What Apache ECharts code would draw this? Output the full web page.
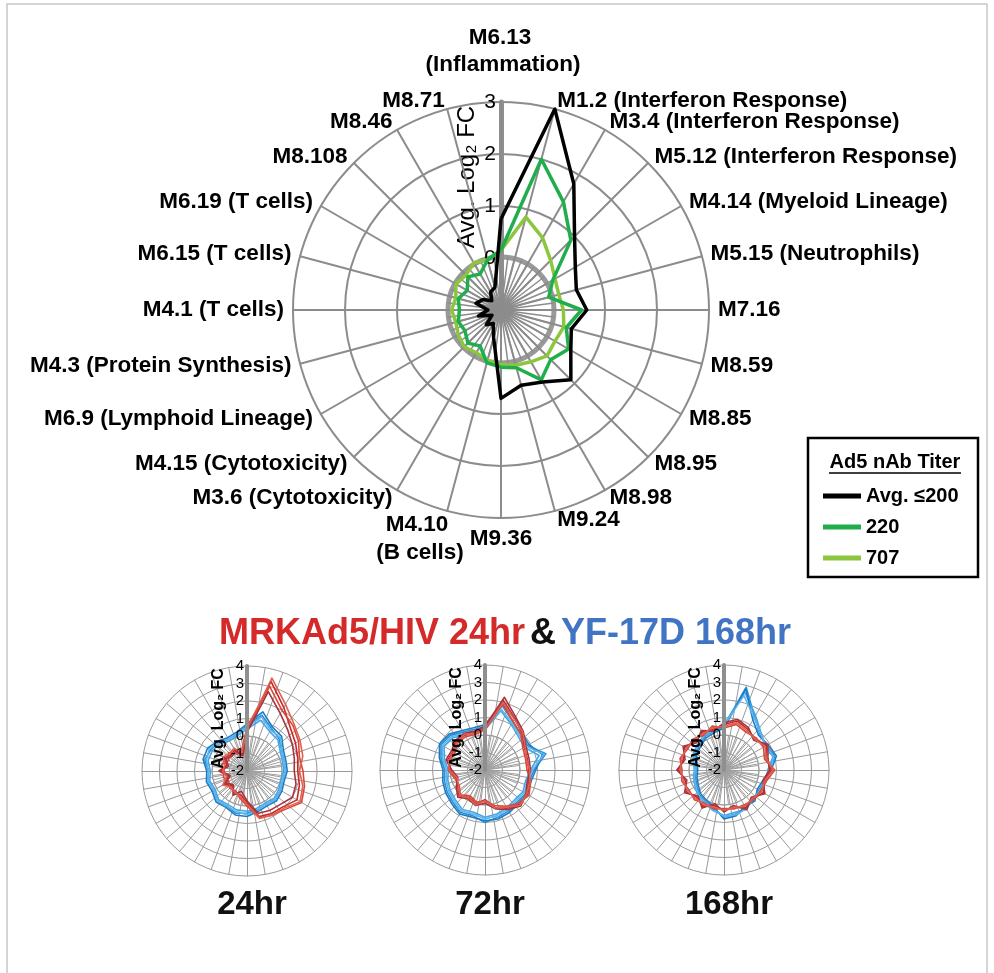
<!DOCTYPE html>
<html><head><meta charset="utf-8">
<script src="https://cdn.jsdelivr.net/npm/echarts/dist/echarts.min.js"></script>
<style>html,body{margin:0;padding:0;background:#fff}#c{width:994px;height:973px}</style>
</head><body><div id="c"></div>
<script>
// categories, clockwise from top
const modules = ['M6.13\n(Inflammation)','M1.2 (Interferon Response)','M3.4 (Interferon Response)','M5.12 (Interferon Response)','M4.14 (Myeloid Lineage)','M5.15 (Neutrophils)','M7.16','M8.59','M8.85','M8.95','M8.98','M9.24','M9.36','M4.10\n(B cells)','M3.6 (Cytotoxicity)','M4.15 (Cytotoxicity)','M6.9 (Lymphoid Lineage)','M4.3 (Protein Synthesis)','M4.1 (T cells)','M6.15 (T cells)','M6.19 (T cells)','M8.108','M8.46','M8.71'];
const legendNames = ['Avg. ≤200','220','707'];
const mainTicks = [0,1,2,3];
const smallTicks = [-2,-1,0,1,2,3,4];
const panelLabels = ['24hr','72hr','168hr'];

// main chart values (Avg. Log2 FC)
const avg200 = [0.75,3.0,1.8,1.0,0.65,0.5,0.65,0.4,0.55,0.9,0.6,0.5,0.7,-0.45,-0.7,-0.6,-0.8,-0.55,-0.75,-0.5,-0.6,-0.75,-0.6,-0.55];
const t220   = [0.15,2.0,1.4,0.9,0.15,-0.05,0.55,0.3,0.5,0.35,0.55,0.15,0.1,0.05,-0.2,-0.1,-0.2,-0.15,-0.2,-0.15,-0.25,-0.1,-0.2,0.0];
const t707   = [0.15,0.85,0.6,0.35,0.2,0.15,0.2,0.25,0.2,0.25,0.15,0.1,0.05,0.0,-0.05,0.0,-0.05,-0.1,-0.05,-0.1,0.0,-0.05,0.05,0.0];

// small panels: red = MRKAd5/HIV 24hr, blue = YF-17D 168hr
const red24a = [0.3,3.3,2.2,1.5,1.2,1.0,0.9,1.1,1.3,0.9,0.8,0.7,-0.2,-0.6,-0.5,-0.8,-0.5,-0.9,-0.4,-0.8,-0.5,-0.7,-0.6,-1.0];
const red24b = [0.5,3.0,2.0,1.7,1.4,1.1,1.2,1.4,1.6,1.1,0.9,0.8,0.0,-0.4,-0.7,-0.6,-0.8,-0.6,-0.7,-0.5,-0.8,-0.5,-0.9,-0.8];
const red24c = [0.2,2.7,1.8,1.3,1.0,0.8,0.7,0.9,1.0,0.7,0.6,0.5,-0.3,-0.8,-0.4,-0.9,-0.6,-1.0,-0.5,-0.9,-0.6,-0.8,-0.7,-1.1];
const red24d = [0.4,3.5,2.4,1.8,1.5,1.3,1.0,1.3,1.5,1.0,0.9,0.8,-0.1,-0.5,-0.6,-0.7,-0.4,-0.8,-0.6,-0.7,-0.4,-0.6,-0.5,-0.9];
const blue24a = [0.6,1.3,0.8,0.6,0.3,0.2,0.2,0.1,0.2,0.3,0.2,0.3,0.4,0.5,0.3,0.4,0.2,0.3,0.2,0.5,0.4,0.3,0.1,0.2];
const blue24b = [0.4,1.0,0.6,0.5,0.2,0.1,0.1,0.0,0.1,0.2,0.1,0.2,0.3,0.3,0.2,0.3,0.1,0.2,0.1,0.3,0.3,0.2,0.0,0.1];
const blue24c = [0.7,1.5,0.9,0.8,0.4,0.3,0.3,0.2,0.3,0.4,0.3,0.4,0.6,0.6,0.4,0.5,0.3,0.4,0.3,0.6,0.6,0.4,0.2,0.3];
const blue24d = [0.5,1.2,0.7,0.7,0.3,0.2,0.2,0.1,0.2,0.3,0.2,0.3,0.5,0.4,0.3,0.4,0.2,0.3,0.2,0.4,0.5,0.3,0.1,0.2];

const red72a = [0.4,2.1,1.4,1.0,0.6,0.5,0.5,0.6,0.8,0.8,0.5,0.2,-0.3,0.0,-0.2,0.1,-0.2,-0.3,0.0,0.2,0.1,0.3,0.3,0.2];
const red72b = [0.3,1.9,1.2,0.9,0.5,0.4,0.4,0.7,0.9,0.7,0.4,0.1,-0.2,-0.1,-0.3,0.0,-0.3,-0.2,0.1,0.1,0.0,0.2,0.2,0.1];
const red72c = [0.5,2.3,1.5,1.1,0.7,0.6,0.6,0.5,0.7,0.9,0.6,0.3,-0.1,0.1,-0.1,0.2,-0.1,-0.4,-0.1,0.3,0.2,0.4,0.4,0.3];
const red72d = [0.35,2.0,1.35,1.05,0.65,0.45,0.55,0.65,0.75,0.85,0.45,0.25,-0.25,0.05,-0.15,0.05,-0.25,-0.35,0.05,0.15,0.05,0.25,0.35,0.15];
const blue72a = [0.5,1.8,1.2,0.9,0.8,1.6,0.8,0.6,0.7,0.6,0.7,0.8,1.0,0.7,0.8,0.6,0.5,0.4,0.3,0.6,0.9,0.8,0.5,0.4];
const blue72b = [0.3,1.5,1.0,0.7,0.6,1.2,0.6,0.4,0.5,0.4,0.5,0.6,0.7,0.5,0.6,0.4,0.3,0.2,0.1,0.4,0.7,0.6,0.3,0.2];
const blue72c = [0.6,1.9,1.4,1.0,0.9,1.4,0.9,0.7,0.8,0.7,0.8,0.9,0.9,0.8,0.9,0.7,0.6,0.5,0.4,0.7,1.0,0.9,0.6,0.5];
const blue72d = [0.4,1.6,1.1,0.8,0.7,1.5,0.7,0.5,0.6,0.5,0.6,0.7,0.8,0.6,0.7,0.5,0.4,0.3,0.2,0.5,0.8,0.7,0.4,0.3];

const red168a = [0.6,0.9,0.7,0.5,0.8,0.5,0.7,0.4,0.6,0.3,0.5,0.2,0.3,0.1,0.4,0.2,0.5,0.3,0.6,0.4,0.6,0.3,0.5,0.4];
const red168b = [0.4,0.7,0.5,0.6,0.6,0.4,0.9,0.5,0.4,0.4,0.3,0.3,0.2,0.3,0.2,0.4,0.3,0.5,0.4,0.6,0.4,0.5,0.3,0.6];
const red168c = [0.7,1.0,0.8,0.4,0.9,0.6,0.6,0.3,0.7,0.2,0.6,0.1,0.4,0.0,0.5,0.1,0.6,0.2,0.7,0.3,0.7,0.2,0.6,0.3];
const red168d = [0.5,0.8,0.6,0.5,0.7,0.5,0.8,0.4,0.5,0.3,0.4,0.2,0.3,0.2,0.3,0.3,0.4,0.4,0.5,0.5,0.5,0.4,0.4,0.5];
const blue168a = [0.5,2.9,1.5,0.9,0.8,1.0,0.6,0.4,0.3,0.4,0.5,0.6,0.7,0.3,0.1,0.0,-0.2,-0.3,-0.4,-0.3,-0.1,0.0,0.2,0.3];
const blue168b = [0.6,2.6,1.6,1.0,0.7,0.9,0.5,0.5,0.4,0.3,0.6,0.5,0.6,0.4,0.2,0.1,-0.1,-0.2,-0.3,-0.2,0.0,0.1,0.3,0.4];
const blue168c = [0.4,2.8,1.3,0.8,0.9,1.1,0.7,0.3,0.2,0.5,0.4,0.7,0.8,0.2,0.0,-0.1,-0.3,-0.4,-0.5,-0.4,-0.2,-0.1,0.1,0.2];
const blue168d = [0.55,2.4,1.45,0.95,0.75,0.95,0.65,0.45,0.35,0.35,0.55,0.65,0.65,0.35,0.15,0.05,-0.15,-0.25,-0.35,-0.25,-0.05,0.05,0.25,0.35];

const panels = [
  {red:[red24a,red24b,red24c,red24d], blue:[blue24a,blue24b,blue24c,blue24d]},
  {red:[red72a,red72b,red72c,red72d], blue:[blue72a,blue72b,blue72c,blue72d]},
  {red:[red168a,red168b,red168c,red168d], blue:[blue168a,blue168b,blue168c,blue168d]}
];

// ---- layout / style ----
const N = modules.length;
// ECharts radar runs counter-clockwise; reorder so the chart reads clockwise
const order = Array.from({length:N}, (_, i) => (N - i) % N);
const re = arr => order.map(k => arr[k]);
const GRID = '#8c8c8c';
const FONT = 'Liberation Sans, Arial, sans-serif';
const NFS = 22.5;
const mainC = [501, 310], mainR = 208;
const smallCs = [[247, 771], [485, 770], [724, 770]], smallR = 105;
const redCols = ['#c62828','#d9473a','#a8323e','#e06050'];
const blueCols = ['#2b8fd6','#44a6e6','#1b7cc4','#5cb6ee'];

const radar = [];
const polar = [], angleAxis = [], radiusAxis = [];
const series = [];

// two-line names (top and lower-left) are set as separate text blocks below
const twoLine = n => n.includes('\n');

// main grid
radar.push({
  center: mainC, radius: mainR, startAngle: 90, shape: 'circle', splitNumber: 4,
  indicator: order.map(k => ({name: modules[k], min: -1, max: 3})),
  axisName: {color:'#000', fontWeight:'bold', fontSize:NFS, fontFamily:FONT,
    formatter: n => twoLine(n) ? '' : n},
  nameGap: 9,
  axisLine: {lineStyle:{color:GRID, width:2}},
  splitLine: {lineStyle:{color:GRID, width:2}},
  splitArea: {show:false}, axisTick:{show:false}, axisLabel:{show:false}
});
// main inner starburst + thick zero ring
radar.push({
  center: mainC, radius: 53, startAngle: 90, shape: 'circle', splitNumber: 1,
  indicator: Array.from({length:48}, () => ({name:'', min:0, max:1})),
  axisName: {show:false},
  axisLine: {lineStyle:{color:GRID, width:1.5}},
  splitLine: {lineStyle:{color:'#999', width:5}},
  splitArea: {show:false}
});
polar.push({center: mainC, radius: [0, mainR]});
angleAxis.push({polarIndex:0, type:'value', min:0, max:360, startAngle:90, show:false});
radiusAxis.push({
  polarIndex:0, type:'value', min:-1, max:3, interval:1,
  axisLine:{lineStyle:{color:'#8f8f8f', width:5}}, axisTick:{show:false}, splitLine:{show:false},
  axisLabel:{formatter: v => mainTicks.includes(v) ? String(v) : '', fontSize:21, color:'#000', fontFamily:FONT, margin:5},
  name:'Avg. Log₂ FC', nameLocation:'middle', nameGap:-46, nameRotate:90, nameMoveOverlap:false,
  nameTextStyle:{fontSize:24, color:'#000', fontFamily:FONT, padding:[0,0,0,58]}
});

// small panels
smallCs.forEach((c, p) => {
  const gi = radar.length;
  // data axes (hidden)
  radar.push({
    center: c, radius: smallR, startAngle: 90, shape:'circle', splitNumber: 6,
    indicator: order.map(() => ({name:'', min:-2, max:4})),
    axisName:{show:false}, axisLine:{show:false}, splitLine:{show:false}, splitArea:{show:false}
  });
  // web
  radar.push({
    center: c, radius: smallR, startAngle: 90, shape:'circle', splitNumber: 6,
    indicator: Array.from({length:36}, () => ({name:'', min:-2, max:4})),
    axisName:{show:false},
    axisLine:{lineStyle:{color:'#9a9a9a', width:1}},
    splitLine:{lineStyle:{color:'#9a9a9a', width:1}},
    splitArea:{show:false}
  });
  radar.push({
    center: c, radius: 35, startAngle: 90, shape:'circle', splitNumber: 1,
    indicator: Array.from({length:48}, () => ({name:'', min:0, max:1})),
    axisName:{show:false},
    axisLine:{lineStyle:{color:'#a0a0a0', width:1}},
    splitLine:{lineStyle:{color:'#9a9a9a', width:1}},
    splitArea:{show:false}
  });
  polar.push({center: c, radius:[0, smallR]});
  angleAxis.push({polarIndex:p+1, type:'value', min:0, max:360, startAngle:90, show:false});
  radiusAxis.push({
    polarIndex:p+1, type:'value', min:-2, max:4, interval:1, z:10,
    axisLine:{lineStyle:{color:'#8f8f8f', width:4}}, axisTick:{show:false}, splitLine:{show:false},
    axisLabel:{formatter: v => smallTicks.includes(v) ? String(v) : '', fontSize:15, color:'#000', fontFamily:FONT, margin:3},
    name:'Avg. Log₂ FC', nameLocation:'middle', nameGap:-36, nameRotate:90, nameMoveOverlap:false,
    nameTextStyle:{fontSize:16, fontWeight:'bold', color:'#000', fontFamily:FONT}
  });
  panels[p].blue.forEach((arr, j) => series.push({
    type:'radar', radarIndex: gi, symbol:'none', z:3,
    lineStyle:{color: blueCols[j], width:1.6},
    data:[{name:'b'+p+j, value: re(arr)}]
  }));
  panels[p].red.forEach((arr, j) => series.push({
    type:'radar', radarIndex: gi, symbol:'none', z:4,
    lineStyle:{color: redCols[j], width:1.6},
    data:[{name:'r'+p+j, value: re(arr)}]
  }));
});

// main series
[[t707,'#8cc63f'],[t220,'#1fae4b'],[avg200,'#000']].forEach(([arr,col], i) => {
  const nm = legendNames[2 - i];
  series.push({
    type:'radar', radarIndex:0, symbol:'none', z:5,
    lineStyle:{color:col, width:3.5}, itemStyle:{color:col},
    data:[{name:nm, value: re(arr)}]
  });
});

const titles = [{
  text: '{r|MRKAd5/HIV 24hr} {k|&} {b|YF-17D 168hr}',
  left: 500, top: 611, textAlign:'center',
  textStyle:{rich:{
    r:{color:'#d42a2a', fontSize:36, fontWeight:'bold', fontFamily:'Liberation Sans Narrow, '+FONT},
    k:{color:'#111', fontSize:36, fontWeight:'bold', fontFamily:'Liberation Sans Narrow, '+FONT},
    b:{color:'#4274c4', fontSize:36, fontWeight:'bold', fontFamily:'Liberation Sans Narrow, '+FONT}
  }}
}];
smallCs.forEach((c, p) => titles.push({
  text: panelLabels[p], left: c[0], top: 883, textAlign:'center',
  textStyle:{fontSize:33, fontWeight:'bold', color:'#111', fontFamily:FONT}
}));

// two-line indicator names as text blocks
const topName = modules[0].split('\n');
const blName = modules[13].split('\n');
const nameText = (t, x, y) => ({type:'text', x, y, z:10,
  style:{text:t, fill:'#000', font:'bold '+NFS+'px '+FONT, textAlign:'center', textVerticalAlign:'middle'}});

const option = {
  animation:false,
  backgroundColor:'#fff',
  title: titles,
  legend:{
    data: legendNames, orient:'vertical', left:818, top:481, itemWidth:38, itemHeight:5, itemGap:11,
    icon:'rect', textStyle:{fontSize:20, fontWeight:'bold', color:'#000', fontFamily:FONT}
  },
  radar, polar, angleAxis, radiusAxis, series,
  graphic:[
    {type:'rect', shape:{x:7, y:4, width:980, height:1000}, style:{fill:'none', stroke:'#c8c8c8', lineWidth:1.5}, z:-1},
    {type:'rect', shape:{x:808, y:438, width:170, height:139}, style:{fill:'#fff', stroke:'#000', lineWidth:2.5}, z:-1},
    {type:'text', x:895, y:462, style:{text:'Ad5 nAb Titer', fill:'#000', font:'bold 20px '+FONT, textAlign:'center', textVerticalAlign:'middle'}},
    {type:'line', shape:{x1:829, y1:473, x2:961, y2:473}, style:{stroke:'#000', lineWidth:1.5}},
    nameText(topName[0], 500, 38), nameText(topName[1], 503, 65),
    nameText(blName[0], 417, 525), nameText(blName[1], 420, 553)
  ]
};
echarts.init(document.getElementById('c')).setOption(option);
</script></body></html>
